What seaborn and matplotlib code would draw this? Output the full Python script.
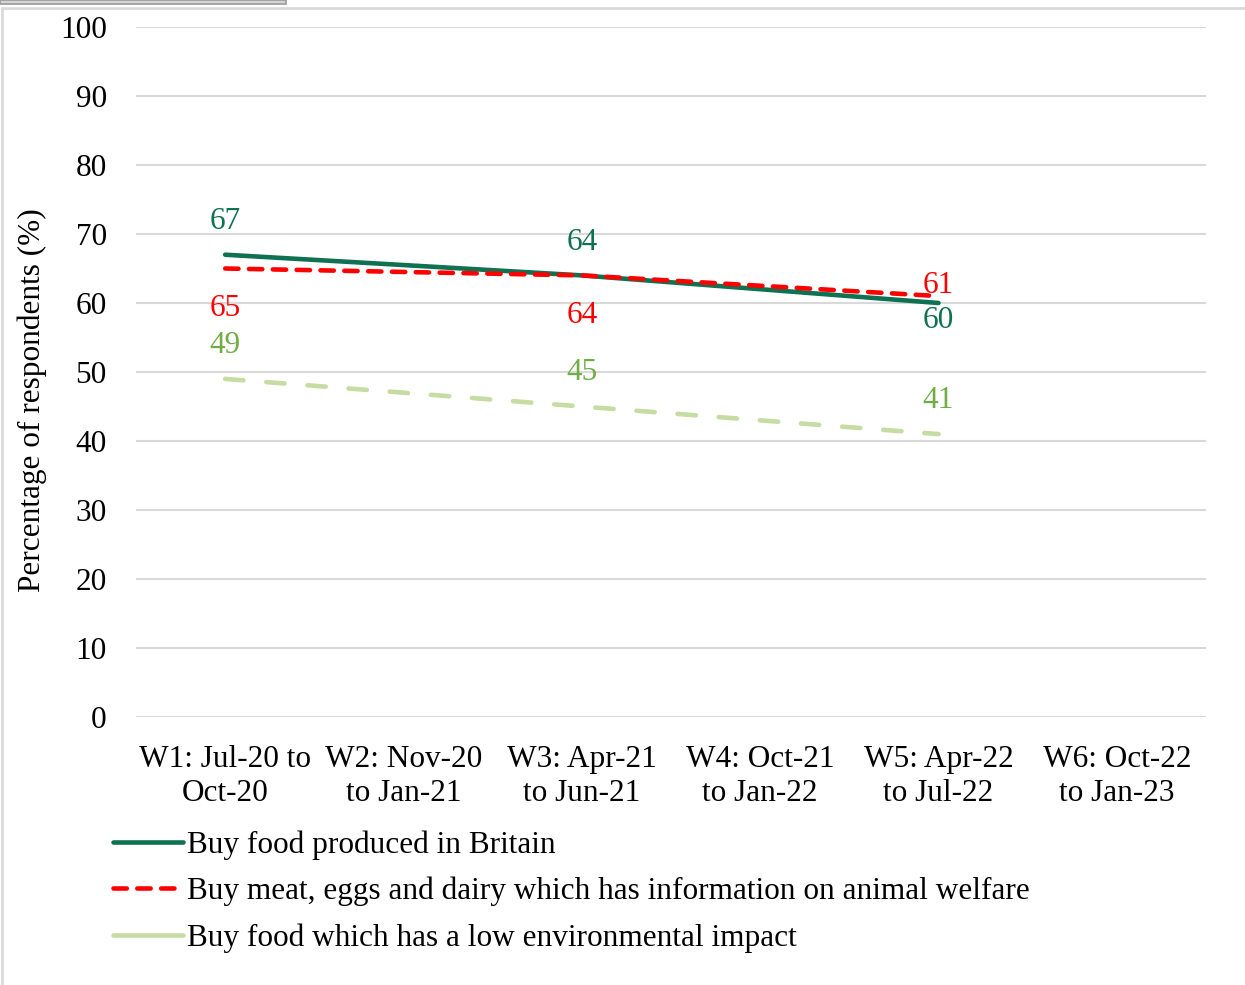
import matplotlib
matplotlib.use("Agg")
import matplotlib.pyplot as plt
from matplotlib.lines import Line2D
from matplotlib.patches import Rectangle
import pandas as pd
import seaborn as sns

# Survey waves (x categories)
waves = ["W1: Jul-20 to\nOct-20", "W2: Nov-20\nto Jan-21", "W3: Apr-21\nto Jun-21",
         "W4: Oct-21\nto Jan-22", "W5: Apr-22\nto Jul-22", "W6: Oct-22\nto Jan-23"]

# Waves in which the question was asked
asked_waves = [0, 2, 4]

series_names = ["Buy food produced in Britain",
                "Buy meat, eggs and dairy which has information on animal welfare",
                "Buy food which has a low environmental impact"]
britain = [67, 64, 60]
animal_welfare = [65, 64, 61]
low_impact = [49, 45, 41]

line_colors = ["#0E7151", "#FF0000", "#C5DCA2"]
label_colors = ["#0E7151", "#FF0000", "#70AD47"]

sns.set_theme(style="white")
plt.rcParams["font.family"] = ["Liberation Serif", "DejaVu Serif"]
plt.rcParams["text.color"] = "black"
plt.rcParams["xtick.color"] = "black"
plt.rcParams["ytick.color"] = "black"
plt.rcParams["axes.labelcolor"] = "black"

FS = 22.5
LW = 3.3

df = pd.concat([
    pd.DataFrame({"wave": asked_waves, "value": vals, "series": name})
    for name, vals in zip(series_names, [britain, animal_welfare, low_impact])
])

fig = plt.figure(figsize=(12.45, 9.85), dpi=100)
ax = fig.add_axes([136 / 1245, 1 - 717 / 985, (1206 - 136) / 1245, (717 - 27) / 985])

dash_styles = [None, (2.9, 2.3), (4.0, 5.0)]
for name, color, dash in zip(series_names, line_colors, dash_styles):
    sub = df[df["series"] == name]
    sns.lineplot(data=sub, x="wave", y="value", ax=ax, color=color,
                 linewidth=LW, legend=False)
    ln = ax.get_lines()[-1]
    ln.set_solid_capstyle("round")
    ln.set_dash_capstyle("round")
    if dash is not None:
        ln.set_dashes(dash)

# Value labels: vertical offset from each point, in data units
label_dy = [
    [4.8, 4.7, -2.6],    # produced in Britain
    [-5.8, -5.8, 1.6],   # animal welfare information
    [4.9, 4.9, 4.8],     # low environmental impact
]
for vals, color, dys in zip([britain, animal_welfare, low_impact], label_colors, label_dy):
    for x, v, dy in zip(asked_waves, vals, dys):
        ax.text(x, v + dy, f"{v}", color=color, fontsize=FS,
                ha="center", va="center")

ax.set_xlim(-0.5, 5.5)
ax.set_ylim(0, 100)
ax.set_yticks(range(0, 101, 10))
ax.set_xticks(range(len(waves)))
ax.set_xticklabels(waves, fontsize=FS, linespacing=1.24)
ax.tick_params(axis="y", labelsize=FS, length=0, pad=21)
ax.tick_params(axis="x", length=0, pad=20)
ax.grid(axis="y", color="#D9D9D9", linewidth=1.5)
ax.set_axisbelow(True)
for s in ax.spines.values():
    s.set_visible(False)
ax.set_xlabel("")
ax.set_ylabel("Percentage of respondents (%)", fontsize=FS)
ax.yaxis.set_label_coords((47 - 136) / 1070, (717 - 400) / 690)

# Legend below the plot
handles = [
    Line2D([0], [0], color=line_colors[0], lw=LW, solid_capstyle="round"),
    Line2D([0], [0], color=line_colors[1], lw=LW, dashes=(2.9, 2.3), dash_capstyle="round"),
    Line2D([0], [0], color=line_colors[2], lw=LW, solid_capstyle="round"),
]
fig.legend(handles, series_names, loc="upper left", bbox_to_anchor=(113 / 1245, 1 - 830 / 985),
           frameon=False, fontsize=FS, handlelength=2.25, handletextpad=0.12,
           labelspacing=0.55, borderaxespad=0, borderpad=0)

# Page frame and header strip
fig.add_artist(Line2D([2 / 1245, 1], [1 - 8 / 985, 1 - 8 / 985], transform=fig.transFigure,
                      color="#DADADA", linewidth=2))
fig.add_artist(Line2D([2 / 1245, 2 / 1245], [0, 1 - 8 / 985], transform=fig.transFigure,
                      color="#DADADA", linewidth=2))
fig.add_artist(Rectangle((0, 1 - 4 / 985), 286 / 1245, 4 / 985, transform=fig.transFigure,
                         facecolor="#D4D4D4", edgecolor="#9A9A9A", linewidth=1.2))

fig.savefig("out.png", dpi=100)
